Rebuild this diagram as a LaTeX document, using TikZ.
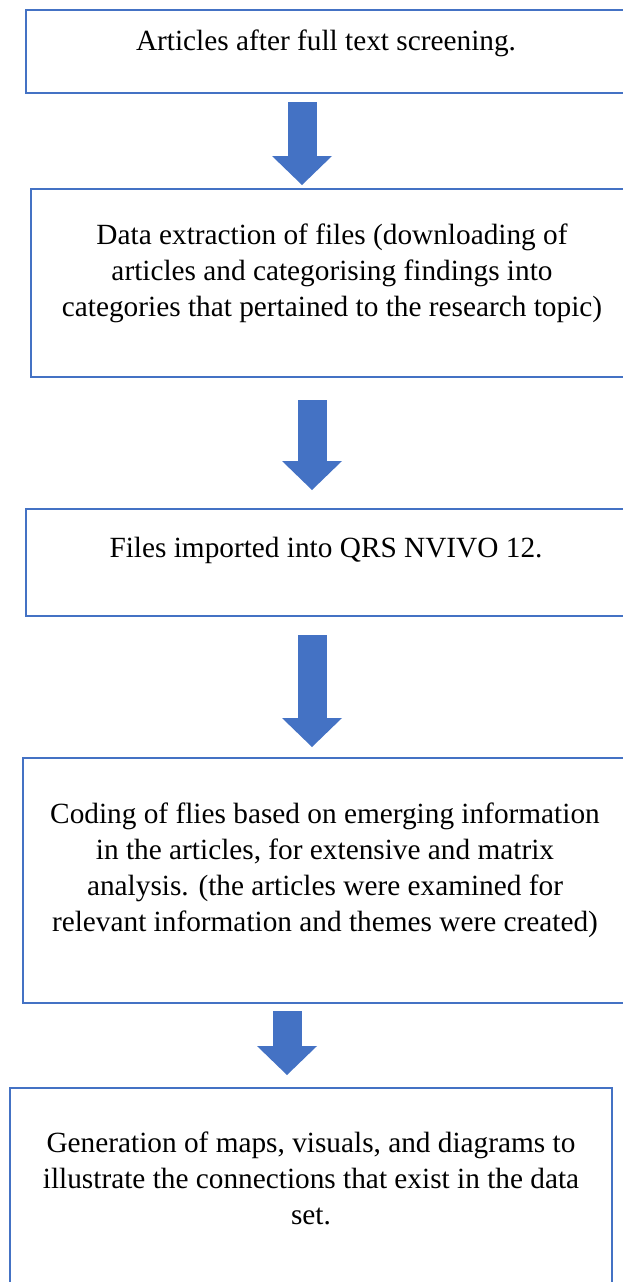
\documentclass[tikz,border=0pt]{standalone}
\usepackage{fontspec}
\setmainfont{Liberation Serif}
\usetikzlibrary{arrows.meta}
\definecolor{officeblue}{HTML}{4472C4}

\begin{document}
\begin{tikzpicture}[x=1pt,y=-1pt,
		stepbox/.style={draw=officeblue, line width=2.6pt, inner sep=0pt, outer sep=0pt, anchor=north west},
		steptext/.style={align=center, inner sep=0pt, font=\fontsize{29.3}{36}\selectfont},
		blockarrow/.style={officeblue, line width=29pt, -{Triangle[width=60pt,length=29pt,line width=0pt]}}]
	\clip (0,0) rectangle (623,1282);
	
	\node[stepbox, minimum width=600pt, minimum height=83pt] (b1) at (26,10) {};
	\node[stepbox, minimum width=603pt, minimum height=188pt] (b2) at (31,189) {};
	\node[stepbox, minimum width=601pt, minimum height=107pt] (b3) at (26,509) {};
	\node[stepbox, minimum width=605pt, minimum height=245pt] (b4) at (23,758) {};
	\node[stepbox, minimum width=602pt, minimum height=230pt] (b5) at (10,1088) {};
	
	\node[steptext] (t1) at (326,43) {Articles after full text screening.};
	\node[steptext] (t2) at (332,273) {Data extraction of files (downloading of\\articles and categorising findings into\\categories that pertained to the research topic)};
	\node[steptext] (t3) at (326,550) {Files imported into QRS NVIVO 12.};
	\node[steptext] (t4) at (325,870) {Coding of flies based on emerging information\\in the articles, for extensive and matrix\\analysis. (the articles were examined for\\relevant information and themes were created)};
	\node[steptext] (t5) at (311,1178) {Generation of maps, visuals, and diagrams to\\illustrate the connections that exist in the data\\set.};
	
	\coordinate (a1) at (302,102);
	\coordinate (a1') at (302,185);
	\coordinate (a2) at (312,400);
	\coordinate (a2') at (312,490);
	\coordinate (a3) at (312,635);
	\coordinate (a3') at (312,747);
	\coordinate (a4) at (287,1011);
	\coordinate (a4') at (287,1075);
	
	\draw[blockarrow] (a1) -- (a1');
	\draw[blockarrow] (a2) -- (a2');
	\draw[blockarrow] (a3) -- (a3');
	\draw[blockarrow] (a4) -- (a4');
	
\end{tikzpicture}
\end{document}
